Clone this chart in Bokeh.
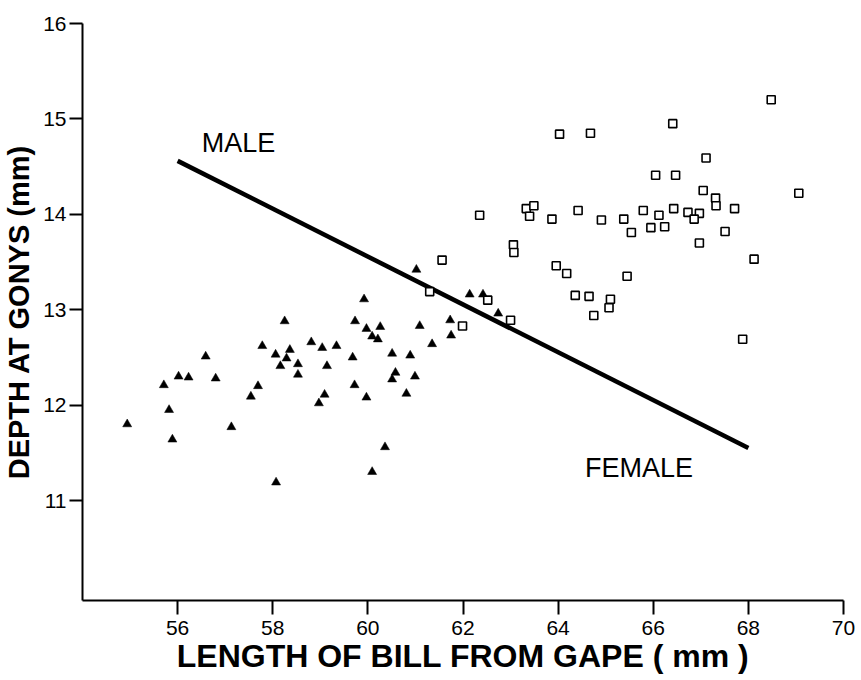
import math
from bokeh.plotting import figure
from bokeh.models import Range1d, FixedTicker, Label
from bokeh.embed import file_html
from bokeh.resources import INLINE

# Male (triangles)
male_x = [58.25, 57.78, 58.06, 58.36, 58.29, 58.16, 58.53, 58.53, 58.81, 59.04,
          59.14, 59.09, 58.97, 56.59, 56.02, 56.23, 56.80, 55.71, 57.69, 57.54,
          55.82, 54.94, 57.13, 55.89, 58.07, 61.02, 59.92, 62.14, 62.42, 62.74,
          59.73, 61.73, 59.97, 60.26, 61.09, 60.09, 60.21, 61.75, 61.35, 59.34,
          59.68, 60.51, 60.89, 60.58, 60.51, 60.99, 59.72, 59.97, 60.81, 60.36,
          60.09]
male_y = [12.88, 12.62, 12.53, 12.58, 12.49, 12.41, 12.43, 12.32, 12.66, 12.60,
          12.41, 12.11, 12.02, 12.51, 12.30, 12.29, 12.28, 12.21, 12.20, 12.09,
          11.95, 11.80, 11.77, 11.64, 11.19, 13.42, 13.11, 13.16, 13.16, 12.96,
          12.88, 12.89, 12.80, 12.82, 12.83, 12.72, 12.69, 12.73, 12.64, 12.62,
          12.50, 12.54, 12.52, 12.34, 12.27, 12.30, 12.21, 12.08, 12.12, 11.56,
          11.30]

# Female (open squares)
female_x = [64.03, 64.68, 62.35, 63.33, 63.49, 63.40, 63.87, 64.42, 64.91, 65.38,
            65.54, 65.79, 63.06, 63.07, 61.56, 63.96, 64.18, 65.45, 64.36, 64.65,
            65.10, 65.07, 64.75, 61.30, 62.52, 61.99, 63.00, 68.48, 66.41, 67.11,
            66.05, 66.47, 69.06, 67.05, 67.31, 67.32, 67.71, 66.43, 66.12, 66.73,
            66.97, 66.86, 65.95, 66.24, 67.51, 66.97, 68.12, 67.88]
female_y = [14.84, 14.85, 13.99, 14.06, 14.09, 13.98, 13.95, 14.04, 13.94, 13.95,
            13.81, 14.04, 13.68, 13.60, 13.52, 13.46, 13.38, 13.35, 13.15, 13.14,
            13.11, 13.02, 12.94, 13.19, 13.10, 12.83, 12.89, 15.20, 14.95, 14.59,
            14.41, 14.41, 14.22, 14.25, 14.17, 14.09, 14.06, 14.06, 13.99, 14.02,
            14.01, 13.95, 13.86, 13.87, 13.82, 13.70, 13.53, 12.69]

# Discriminant line
line_x = [56.0, 68.0]
line_y = [14.56, 11.55]

x_ticks = [56, 58, 60, 62, 64, 66, 68, 70]
y_ticks = [11, 12, 13, 14, 15, 16]

FONT = "Liberation Sans"

p = figure(width=861, height=680, output_backend="svg", toolbar_location=None,
           x_range=Range1d(54, 70), y_range=Range1d(9.952, 16),
           min_border_left=81, min_border_right=18, min_border_top=23,
           min_border_bottom=80)
p.outline_line_color = None
p.grid.visible = False
p.background_fill_color = "white"
p.border_fill_color = "white"

p.xaxis.ticker = FixedTicker(ticks=x_ticks)
p.yaxis.ticker = FixedTicker(ticks=y_ticks)
for ax in (p.xaxis, p.yaxis):
    ax.axis_line_width = 2
    ax.axis_line_color = "black"
    ax.major_tick_line_width = 2
    ax.major_tick_line_color = "black"
    ax.minor_tick_line_color = None
    ax.major_tick_in = 0
    ax.major_label_text_font = FONT
    ax.major_label_text_font_size = "21px"
    ax.major_label_text_color = "black"
    ax.axis_label_text_font = FONT
    ax.axis_label_text_font_style = "bold"
    ax.axis_label_text_color = "black"
p.xaxis.major_tick_out = 14
p.xaxis.major_label_standoff = 6
p.yaxis.major_tick_out = 13
p.yaxis.major_label_standoff = 3

p.xaxis.axis_label = "LENGTH OF BILL FROM GAPE ( mm )"
p.xaxis.axis_label_text_font_size = "32px"
p.xaxis.axis_label_standoff = 0
p.yaxis.axis_label = "DEPTH AT GONYS (mm)"
p.yaxis.axis_label_text_font_size = "29px"
p.yaxis.axis_label_standoff = 5

p.line(line_x, line_y, line_width=4.5, line_color="black", line_cap="butt")
p.scatter(male_x, male_y, marker="triangle", size=9, fill_color="black",
          line_color="black", line_width=0.5)
p.scatter(female_x, female_y, marker="square", size=8, fill_color="white",
          line_color="black", line_width=1.6)

p.add_layout(Label(x=57.28, y=14.75, text="MALE", text_font=FONT,
                   text_font_size="27px", text_align="center",
                   text_baseline="middle", text_color="black"))
p.add_layout(Label(x=65.70, y=11.34, text="FEMALE", text_font=FONT,
                   text_font_size="27px", text_align="center",
                   text_baseline="middle", text_color="black"))

open("out.html", "w").write(file_html(p, INLINE))
